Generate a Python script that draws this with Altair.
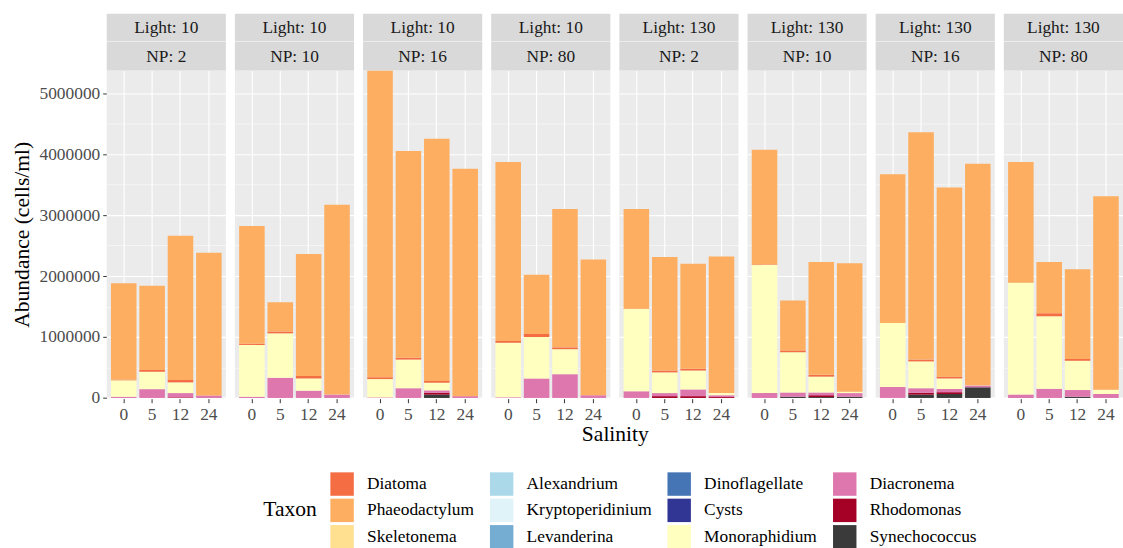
import altair as alt
import pandas as pd

# ---------------- data ----------------
light = [10] * 16 + [130] * 16
np_ratio = [2, 2, 2, 2, 10, 10, 10, 10, 16, 16, 16, 16, 80, 80, 80, 80] * 2
salinity = [0, 5, 12, 24] * 8

synechococcus = [0, 0, 0, 0,  0, 0, 0, 0,  0, 0, 55000, 0,  0, 0, 0, 0,
                 0, 0, 0, 0,  0, 20000, 15000, 20000,  0, 55000, 65000, 175000,  0, 0, 20000, 0]
rhodomonas = [0, 0, 10000, 0,  0, 0, 0, 0,  0, 0, 30000, 0,  0, 0, 0, 0,
              0, 30000, 30000, 15000,  0, 0, 30000, 0,  0, 30000, 30000, 0,  0, 0, 0, 0]
diacronema = [20000, 145000, 70000, 40000,  20000, 330000, 120000, 55000,
              10000, 160000, 40000, 30000,  10000, 320000, 390000, 45000,
              110000, 50000, 110000, 30000,  80000, 70000, 45000, 60000,
              180000, 75000, 52000, 30000,  55000, 150000, 110000, 65000]
monoraphidium = [270000, 285000, 176000, 0,  850000, 730000, 200000, 0,
                 300000, 470000, 125000, 0,  895000, 680000, 410000, 0,
                 1350000, 340000, 310000, 35000,  2100000, 660000, 260000, 20000,
                 1050000, 440000, 173000, 5000,  1835000, 1190000, 480000, 71000]
diatoma = [10000, 30000, 40000, 0,  20000, 30000, 40000, 0,
           30000, 30000, 30000, 0,  30000, 50000, 30000, 0,
           5000, 30000, 30000, 0,  10000, 30000, 30000, 0,
           0, 30000, 30000, 0,  0, 50000, 30000, 0]
phaeodactylum = [1580000, 1380000, 2364000, 2340000,  1930000, 480000, 2000000, 3115000,
                 5030000, 3390000, 3970000, 3730000,  2935000, 970000, 2270000, 2225000,
                 1635000, 1860000, 1720000, 2240000,  1880000, 820000, 1850000, 2110000,
                 2440000, 3730000, 3100000, 3630000,  1980000, 840000, 1470000, 3174000]

series = {
    "Synechococcus": synechococcus,
    "Rhodomonas": rhodomonas,
    "Diacronema": diacronema,
    "Monoraphidium": monoraphidium,
    "Diatoma": diatoma,
    "Phaeodactylum": phaeodactylum,
}
# bottom -> top stacking
stack_order = ["Synechococcus", "Rhodomonas", "Cysts", "Dinoflagellate", "Diacronema",
               "Monoraphidium", "Levanderina", "Kryptoperidinium", "Alexandrium",
               "Skeletonema", "Diatoma", "Phaeodactylum"]

# legend order (filled column by column, 3 rows)
legend_domain = ["Diatoma", "Phaeodactylum", "Skeletonema",
                 "Alexandrium", "Kryptoperidinium", "Levanderina",
                 "Dinoflagellate", "Cysts", "Monoraphidium",
                 "Diacronema", "Rhodomonas", "Synechococcus"]
legend_colors = ["#F46D43", "#FDAE61", "#FEE090",
                 "#ABD9E9", "#E0F3F8", "#74ADD1",
                 "#4575B4", "#313695", "#FFFFBF",
                 "#DE77AE", "#A50026", "#3A3A3A"]

rows = []
for taxon, vals in series.items():
    for i, v in enumerate(vals):
        rows.append({
            "Light": light[i], "NP": np_ratio[i], "Salinity": salinity[i],
            "Taxon": taxon, "Abundance": v,
            "order": stack_order.index(taxon),
            "panel": f"{light[i]}_{np_ratio[i]}",
            "light_label": f"Light: {light[i]}",
            "np_label": f"NP: {np_ratio[i]}",
        })
df = pd.DataFrame(rows)
panel_order = []
for l, n in zip(light, np_ratio):
    key = f"{l}_{n}"
    if key not in panel_order:
        panel_order.append(key)

# ---------------- chart ----------------
FONT = "Liberation Serif"
W = 119.5
H = 328.3
SMALL = 17.4
BIG = 21.6

y_values = [i * 500000 for i in range(11)]

axis_common = dict(domain=False, labelFont=FONT, titleFont=FONT, labelFontSize=SMALL,
                   titleFontSize=BIG, labelColor="#4D4D4D", titleColor="#000000",
                   tickColor="#333333", tickSize=4, gridColor="#FFFFFF",
                   titleFontWeight="normal", labelFontWeight="normal")

bars = alt.Chart().mark_bar().encode(
    x=alt.X("Salinity:O", sort=[0, 5, 12, 24],
            scale=alt.Scale(paddingInner=0.1, paddingOuter=0.15),
            axis=alt.Axis(title=None, labelAngle=0, bandPosition=0.5, grid=True,
                          gridWidth=1.1, labelPadding=2.5, **axis_common)),
    y=alt.Y("Abundance:Q", stack="zero",
            scale=alt.Scale(domain=[0, 5370000], nice=False),
            axis=alt.Axis(title="Abundance (cells/ml)", values=y_values, format="d",
                          labelExpr="datum.value % 1000000 === 0 ? format(datum.value, 'd') : ''",
                          tickOpacity={"condition": {"test": "datum.value % 1000000 === 0", "value": 1}, "value": 0},
                          gridWidth={"condition": {"test": "datum.value % 1000000 === 0", "value": 1.1}, "value": 0.55},
                          labelPadding=3, titlePadding=6, **axis_common)),
    color=alt.Color("Taxon:N",
                    scale=alt.Scale(domain=legend_domain, range=legend_colors),
                    legend=alt.Legend(orient="none", legendX=157, legendY=402.5, columns=4,
                                      direction="vertical",
                                      title="Taxon", titleOrient="left", titleAnchor="middle",
                                      titleBaseline="middle",
                                      symbolType="square", symbolSize=552, symbolStrokeWidth=0,
                                      symbolOpacity=1,
                                      labelFont=FONT, labelFontSize=SMALL, labelColor="#000000",
                                      titleFont=FONT, titleFontSize=BIG, titleFontWeight="normal",
                                      titleColor="#000000", titlePadding=13,
                                      labelOffset=13, rowPadding=2.5, columnPadding=15)),
    order=alt.Order("order:Q", sort="ascending"),
)

one = "datum.Taxon === 'Phaeodactylum' && datum.Salinity === 0"

strip_top = alt.Chart().mark_rect(color="#D9D9D9").encode(
    x=alt.value(0), x2=alt.value(W), y=alt.value(-57), y2=alt.value(-29)
).transform_filter(one)
strip_bot = alt.Chart().mark_rect(color="#D9D9D9").encode(
    x=alt.value(0), x2=alt.value(W), y=alt.value(-28.5), y2=alt.value(0)
).transform_filter(one)
txt_top = alt.Chart().mark_text(font=FONT, fontSize=SMALL, color="#1A1A1A", baseline="middle").encode(
    x=alt.value(W / 2), y=alt.value(-42.5), text="light_label:N"
).transform_filter(one)
txt_bot = alt.Chart().mark_text(font=FONT, fontSize=SMALL, color="#1A1A1A", baseline="middle").encode(
    x=alt.value(W / 2), y=alt.value(-14), text="np_label:N"
).transform_filter(one)

layered = alt.layer(bars, strip_top, strip_bot, txt_top, txt_bot).properties(width=W, height=H)

chart = layered.facet(
    column=alt.Column("panel:N", sort=panel_order,
                      header=alt.Header(labels=False, title="Salinity", titleOrient="bottom",
                                        titleFont=FONT, titleFontSize=BIG, titleFontWeight="normal",
                                        titleColor="#000000", titlePadding=-9)),
    data=df,
    spacing=8.5,
).properties(
    padding={"left": 11, "top": 13, "right": 0, "bottom": 0}
).configure_view(
    fill="#EBEBEB", stroke=None
)

chart.save("out.html", embed_options={"renderer": "svg", "actions": False})
